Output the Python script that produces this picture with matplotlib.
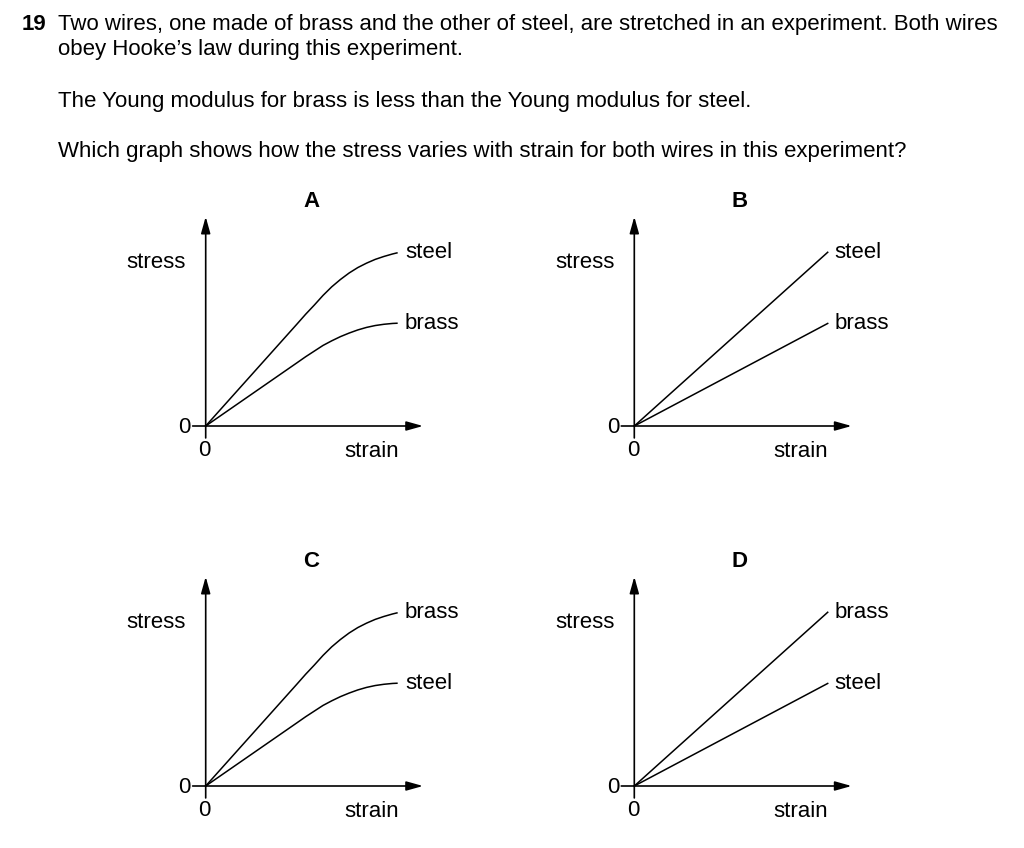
import matplotlib
matplotlib.use('Agg')
import matplotlib.pyplot as plt

plt.rcParams['font.family'] = ['Liberation Sans', 'DejaVu Sans']

# question text
question_no = '19'
question_lines = [
    'Two wires, one made of brass and the other of steel, are stretched in an experiment. Both wires',
    'obey Hooke\u2019s law during this experiment.',
    'The Young modulus for brass is less than the Young modulus for steel.',
    'Which graph shows how the stress varies with strain for both wires in this experiment?',
]

# curves of graphs A and C (strain, stress) - axis tips are at 1
curve_strain = [0, 0.42, 0.46, 0.50, 0.54, 0.58, 0.62, 0.66, 0.70, 0.74, 0.78, 0.82, 0.86, 0.88]
upper_stress = [0, 0.487, 0.534, 0.578, 0.624, 0.665, 0.700, 0.731, 0.757, 0.778, 0.796, 0.810, 0.822, 0.827]
lower_stress = [0, 0.302, 0.331, 0.358, 0.385, 0.407, 0.427, 0.444, 0.459, 0.471, 0.480, 0.486, 0.490, 0.491]

# straight lines of graphs B and D
line_strain = [0, 0.89]
upper_line = [0, 0.83]
lower_line = [0, 0.49]

panel_names = ['A', 'B', 'C', 'D']
upper_labels = ['steel', 'steel', 'brass', 'brass']
lower_labels = ['brass', 'brass', 'steel', 'steel']
curved = [True, False, True, False]

W, H = 1024, 848
fig = plt.figure(figsize=(W / 100, H / 100), dpi=100)
fs = 16

fig.text(22 / W, 1 - 30 / H, question_no, fontsize=fs, fontweight='bold', va='baseline')
for txt, yb in zip(question_lines, [30, 55, 107, 157]):
    fig.text(58 / W, 1 - yb / H, txt, fontsize=fs, va='baseline')

# origin of each graph in pixels
origins = [(205.7, 426), (634.3, 426), (205.7, 786), (634.3, 786)]
ax_w, ax_h = 217.3, 209.3

for i, (ox, oy) in enumerate(origins):
    ax = fig.add_axes([ox / W, 1 - oy / H, ax_w / W, ax_h / H])
    ax.set_xlim(0, 1)
    ax.set_ylim(0, 1)
    ax.axis('off')

    arrow = dict(arrowstyle='-|>,head_length=1.0,head_width=0.28', mutation_scale=10,
                 color='black', lw=1.2, shrinkA=0, shrinkB=0)
    ax.annotate('', xy=(1, 0), xytext=(-0.06, 0), arrowprops=arrow, annotation_clip=False)
    ax.annotate('', xy=(0, 1), xytext=(0, -0.057), arrowprops=arrow, annotation_clip=False)

    if curved[i]:
        ax.plot(curve_strain, upper_stress, color='black', lw=1.1, clip_on=False)
        ax.plot(curve_strain, lower_stress, color='black', lw=1.1, clip_on=False)
        yu, yl = upper_stress[-1], lower_stress[-1]
        xl = 0.917
    else:
        ax.plot(line_strain, upper_line, color='black', lw=1.1, clip_on=False)
        ax.plot(line_strain, lower_line, color='black', lw=1.1, clip_on=False)
        yu, yl = upper_line[-1], lower_line[-1]
        xl = 0.92

    ax.text(xl, yu, upper_labels[i], fontsize=fs, va='center', ha='left')
    ax.text(xl, yl, lower_labels[i], fontsize=fs, va='center', ha='left')
    ax.text(-0.092, 0.78, 'stress', fontsize=fs, va='center', ha='right')
    ax.text(0.764, -0.123, 'strain', fontsize=fs, va='center', ha='center')
    ax.text(-0.097, -0.007, '0', fontsize=fs, va='center', ha='center')
    ax.text(-0.006, -0.118, '0', fontsize=fs, va='center', ha='center')
    ax.text(0.485, 1.075, panel_names[i], fontsize=fs, fontweight='bold', va='center', ha='center')

fig.savefig('out.png', dpi=100)
